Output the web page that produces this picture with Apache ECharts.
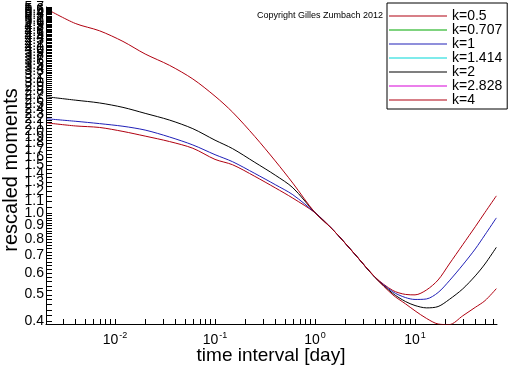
<!DOCTYPE html>
<html>
<head>
<meta charset="utf-8">
<script src="https://cdn.jsdelivr.net/npm/echarts@6/dist/echarts.min.js"></script>
<style>
  html, body { margin: 0; padding: 0; background: #fff; }
  #chart { width: 512px; height: 366px; }
</style>
</head>
<body>
<div id="chart"></div>
<script>
// ---- data ----
const days = [0.00208, 0.004, 0.007, 0.012, 0.02, 0.035, 0.06, 0.1, 0.15, 0.25, 0.4, 0.6, 1, 1.5, 2.5, 4, 6, 8, 10, 13, 17, 22, 30, 40, 50, 65];
const k0_5   = [2.138, 2.084, 2.057, 1.989, 1.912, 1.826, 1.725, 1.570, 1.500, 1.360, 1.234, 1.131, 1.0, 0.868, 0.704, 0.579, 0.518, 0.501, 0.499, 0.520, 0.566, 0.648, 0.763, 0.888, 1.002, 1.153];
const k0_707 = [];
const k1     = [2.213, 2.168, 2.125, 2.078, 2.012, 1.898, 1.774, 1.634, 1.539, 1.394, 1.268, 1.164, 1.0, 0.868, 0.704, 0.578, 0.512, 0.488, 0.480, 0.482, 0.509, 0.562, 0.643, 0.736, 0.829, 0.957];
const k1_414 = [];
const k2     = [2.666, 2.592, 2.531, 2.438, 2.318, 2.190, 2.036, 1.847, 1.719, 1.531, 1.374, 1.235, 1.0, 0.868, 0.704, 0.577, 0.505, 0.472, 0.456, 0.447, 0.452, 0.480, 0.525, 0.586, 0.648, 0.746];
const k2_828 = [];
const k4     = [5.60, 4.96, 4.66, 4.26, 3.83, 3.48, 3.10, 2.68, 2.34, 1.905, 1.55, 1.284, 1.0, 0.868, 0.704, 0.578, 0.499, 0.463, 0.436, 0.409, 0.390, 0.388, 0.418, 0.449, 0.475, 0.526];

const seriesNames = ['k=0.5', 'k=0.707', 'k=1', 'k=1.414', 'k=2', 'k=2.828', 'k=4'];
const seriesValues = [k0_5, k0_707, k1, k1_414, k2, k2_828, k4];
const seriesColors = ['#b00010', '#00a800', '#2020b8', '#00d8d8', '#000000', '#d800d8', '#b00010'];

// tick labels of the y axis (every 0.1)
const yTickLabels = [0.4,0.5,0.6,0.7,0.8,0.9,1.0,1.1,1.2,1.3,1.4,1.5,1.6,1.7,1.8,1.9,2.0,2.1,2.2,2.3,2.4,2.5,2.6,2.7,2.8,2.9,3.0,3.1,3.2,3.3,3.4,3.5,3.6,3.7,3.8,3.9,4.0,4.1,4.2,4.3,4.4,4.5,4.6,4.7,4.8,4.9,5.0,5.1,5.2,5.3,5.4,5.5,5.6,5.7];
const xDecades = [0.001, 0.01, 0.1, 1, 10];
const xMinorMultipliers = [1, 2, 3, 4, 5, 6, 7, 8, 9];

const X_MIN = 0.00204, X_MAX = 66;
const Y_MIN = 0.39, Y_MAX = 5.7;

// ---- tick positions (axis decorations) ----
const yTicks = [];
for (let i = 40; i <= 570; i += (i < 100 ? 2 : 5)) yTicks.push(i / 100);
const xTicks = [];
xDecades.forEach(d => xMinorMultipliers.forEach(m => {
  const v = d * m;
  if (v >= X_MIN && v <= X_MAX) xTicks.push(v);
}));

const FONT = '"Liberation Sans", Arial, sans-serif';

const chart = echarts.init(document.getElementById('chart'), null, { renderer: 'canvas' });

const lineSeries = seriesNames.map((name, i) => ({
  name,
  type: 'line',
  data: seriesValues[i].map((v, j) => [days[j], v]),
  showSymbol: false,
  symbol: 'none',
  smooth: 0.3,
  lineStyle: { width: 1, color: seriesColors[i] },
  itemStyle: { color: seriesColors[i] },
  clip: true,
  z: 3
}));

const option = {
  animation: false,
  color: seriesColors,
  backgroundColor: '#ffffff',
  grid: { left: 46, top: 7, width: 451, height: 317, containLabel: false },
  xAxis: {
    type: 'log',
    min: X_MIN,
    max: X_MAX,
    logBase: 10,
    axisLine: { show: true, onZero: false, lineStyle: { color: '#000', width: 1 } },
    axisTick: { show: false },
    splitLine: { show: false },
    axisLabel: {
      show: true,
      margin: 7,
      showMinLabel: false,
      showMaxLabel: false,
      formatter: function (v) {
        const e = Math.log10(v);
        const r = Math.round(e);
        if (Math.abs(e - r) > 1e-6) return '';
        return '{b|10}{s|' + (r < 0 ? '-' : '') + Math.abs(r) + '}';
      },
      rich: {
        b: { fontFamily: FONT, fontSize: 14, color: '#000', lineHeight: 16, verticalAlign: 'bottom' },
        s: { fontFamily: FONT, fontSize: 9, color: '#000', lineHeight: 16, verticalAlign: 'top', padding: [0, 0, 0, 1] }
      }
    }
  },
  yAxis: {
    type: 'log',
    min: Y_MIN,
    max: Y_MAX,
    logBase: 10,
    axisLine: { show: true, onZero: false, lineStyle: { color: '#000', width: 1 } },
    axisTick: { show: false },
    axisLabel: { show: false },
    splitLine: { show: false }
  },
  legend: {
    data: seriesNames.map((n, i) => ({ name: n, itemStyle: { color: seriesColors[i] } })),
    orient: 'vertical',
    left: 387,
    top: 3,
    padding: [6, 5, 2, 2],
    itemGap: 0,
    itemWidth: 58,
    itemHeight: 1,
    icon: 'rect',
    borderColor: '#000',
    borderWidth: 1,
    backgroundColor: '#fff',
    selectedMode: false,
    textStyle: { fontFamily: FONT, fontSize: 14, color: '#000', lineHeight: 12.8, padding: [0, 0, 0, 0] }
  },
  graphic: [
    {
      type: 'text', left: 257, top: 11,
      style: { text: 'Copyright Gilles Zumbach 2012', fontFamily: FONT, fontSize: 9, fill: '#000' }
    },
    {
      type: 'text', x: 271, y: 356,
      style: { text: 'time interval [day]', fontFamily: FONT, fontSize: 19, fill: '#000', align: 'center', verticalAlign: 'middle' }
    },
    {
      type: 'text', x: 11, y: 170, rotation: Math.PI / 2,
      style: { text: 'rescaled moments', fontFamily: FONT, fontSize: 20, fill: '#000', align: 'center', verticalAlign: 'middle' }
    }
  ],
  series: lineSeries.concat([
    {
      type: 'custom',
      silent: true,
      clip: false,
      z: 5,
      data: yTicks.map(v => [X_MIN, v]),
      renderItem: function (params, api) {
        const p = api.coord([api.value(0), api.value(1)]);
        const y = Math.round(p[1]) + 0.5;
        return { type: 'line', shape: { x1: p[0], y1: y, x2: p[0] + 6, y2: y }, style: { stroke: '#000', lineWidth: 1 } };
      }
    },
    {
      type: 'custom',
      silent: true,
      clip: false,
      z: 5,
      data: xTicks.map(v => [v, Y_MIN]),
      renderItem: function (params, api) {
        const p = api.coord([api.value(0), api.value(1)]);
        const x = Math.round(p[0]) + 0.5;
        return { type: 'line', shape: { x1: x, y1: p[1], x2: x, y2: p[1] - 5 }, style: { stroke: '#000', lineWidth: 1 } };
      }
    },
    {
      type: 'custom',
      silent: true,
      clip: false,
      z: 5,
      data: yTickLabels.map(v => [X_MIN, v]),
      renderItem: function (params, api) {
        const p = api.coord([api.value(0), api.value(1)]);
        return {
          type: 'text',
          x: p[0] - 2,
          y: p[1],
          style: { text: api.value(1).toFixed(1), fontFamily: FONT, fontSize: 14, fill: '#000', align: 'right', verticalAlign: 'middle' }
        };
      }
    }
  ])
};

chart.setOption(option);
</script>
</body>
</html>
